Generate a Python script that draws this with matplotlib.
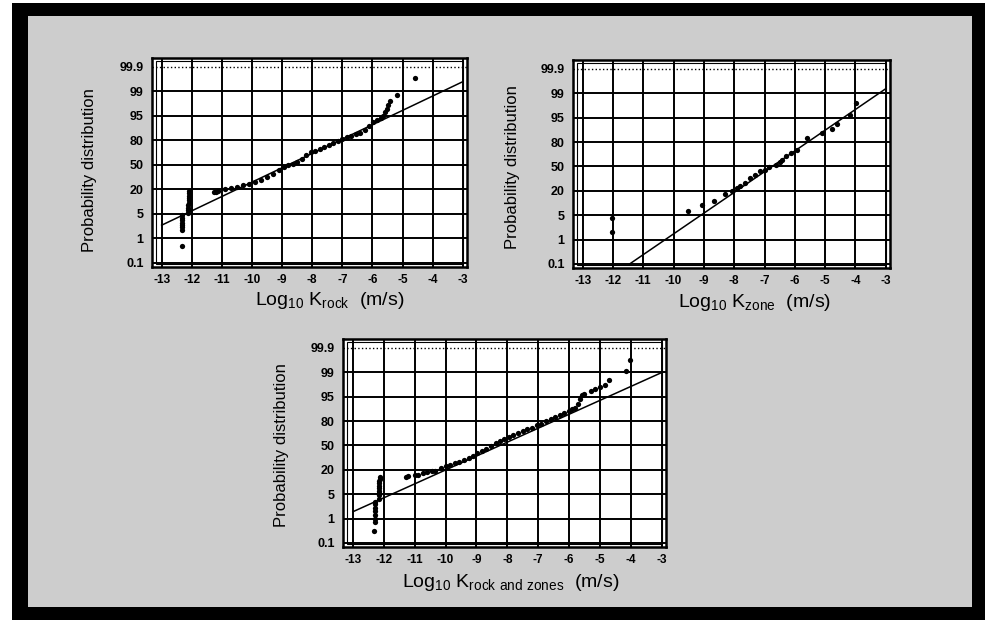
import numpy as np
import matplotlib.pyplot as plt
from matplotlib.patches import Rectangle
from matplotlib.ticker import NullLocator

plt.rcParams['font.family'] = ['Liberation Sans', 'DejaVu Sans']
plt.rcParams['mathtext.default'] = 'regular'

# probability axis (ticks are equally spaced on the original paper)
prob_ticks = [0.1, 1, 5, 20, 50, 80, 95, 99, 99.9]
prob_labels = ['0.1', '1', '5', '20', '50', '80', '95', '99', '99.9']
k_ticks = list(range(-13, -2))
k_labels = ['-13', '-12', '-11', '-10', '-9', '-8', '-7', '-6', '-5', '-4', '-3']

# rock
rock_logk = [-12.34,
             -12.34, -12.34, -12.33, -12.33, -12.32, -12.32, -12.31,
             -12.12, -12.12, -12.11, -12.11, -12.10, -12.10, -12.10, -12.09, -12.09, -12.08,
             -11.26, -11.20, -11.14,
             -10.9, -10.7, -10.5, -10.3, -10.1, -9.9, -9.7, -9.5, -9.3, -9.1,
             -8.95, -8.8, -8.65, -8.5, -8.35, -8.2, -8.05, -7.9, -7.75, -7.6,
             -7.45, -7.3, -7.15, -7.0, -6.85, -6.7, -6.55, -6.4, -6.25, -6.1,
             -5.98, -5.85, -5.72, -5.65, -5.58, -5.52, -5.47, -5.43, -5.19, -4.59]
rock_prob = [0.72,
             2.4, 2.8, 3.2, 3.6, 4.0, 4.4, 4.8,
             5.75, 7.25, 8.75, 10.25, 11.75, 13.25, 14.75, 16.25, 17.75, 18.8,
             18.2, 18.5, 18.8,
             20, 21.5, 23, 25.1, 26.6, 29, 32, 35.6, 39.5, 44,
             47.6, 49.4, 51.5, 53.9, 57.5, 62, 65.6, 67.4, 69.5, 71.6,
             74, 76.4, 78.8, 80.75, 81.95, 83, 83.9, 84.8, 86.45, 89,
             91.25, 92.45, 93.5, 95, 95.6, 96.2, 96.8, 97.4, 98.44, 99.5]
rock_fit_logk = [-13, -3]
rock_fit_prob = [3.16, 99.36]

# zones
zone_logk = [-12.03, -12.03, -9.54, -9.05, -8.68, -8.30, -8.08, -7.90, -7.81, -7.65,
             -7.49, -7.32, -7.16, -7.0, -6.84, -6.62, -6.50, -6.41, -6.30, -6.14,
             -5.92, -5.59, -5.11, -4.78, -4.62, -4.19, -3.97]
zone_prob = [4.6, 2.28, 7.55, 11, 14, 17.75, 19.7, 23.5, 25.7, 29.6,
             35.9, 39.8, 44, 45.8, 49.1, 52.1, 55, 58.1, 62.3, 66.2,
             70.4, 82.25, 85.4, 87.8, 91.4, 95.4, 97.4]
zone_fit_logk = [-11.45, -3]
zone_fit_prob = [0.1, 99.17]

# rock and zones
all_logk = [-12.32,
            -12.29, -12.29, -12.29, -12.28, -12.28, -12.28, -12.27,
            -12.16, -12.16, -12.15, -12.15, -12.15, -12.14, -12.14, -12.14, -12.13, -12.13,
            -11.27, -11.2, -10.99, -10.9, -10.72, -10.6, -10.45, -10.33,
            -10.15, -10.0, -9.85, -9.7, -9.56, -9.4, -9.25, -9.12, -8.97, -8.83,
            -8.68, -8.53, -8.38, -8.24, -8.1, -7.95, -7.8, -7.65, -7.5, -7.35,
            -7.2, -7.05, -6.9, -6.75, -6.6, -6.45, -6.3, -6.15, -6.0, -5.9,
            -5.8, -5.72, -5.65, -5.58, -5.52,
            -5.3, -5.15, -5.0, -4.85, -4.7, -4.16, -4.03]
all_prob = [0.55,
            0.89, 1.0, 1.6, 2.2, 2.8, 3.4, 3.76,
            4.28, 4.8, 5.75, 7.25, 8.75, 10.25, 11.75, 13.25, 14.3, 15.5,
            15.5, 15.9, 16.55, 17.0, 18.2, 18.6, 19.0, 19.55,
            22.4, 24.2, 26, 27.8, 30.2, 32.6, 35, 37.4, 40.4, 42.8,
            45.5, 49.1, 52.4, 55.7, 58.4, 60.5, 62.6, 65, 67.4, 69.8,
            71.9, 74.6, 77, 79.7, 81.2, 82.25, 83.6, 84.8, 86.3, 87.2,
            88.25, 90.5, 93.5, 95.2, 95.52,
            95.88, 96.2, 96.52, 96.92, 97.8, 99.06, 99.45]
all_fit_logk = [-13, -3]
all_fit_prob = [2.12, 98.96]

# piecewise scale: each labelled probability one step apart
p_knots = [-0.8] + prob_ticks + [100.8]
i_knots = [-1] + list(range(len(prob_ticks))) + [len(prob_ticks)]


def fwd(p):
    return np.interp(p, p_knots, i_knots)


def inv(i):
    return np.interp(i, i_knots, p_knots)


fig = plt.figure(figsize=(9.85, 6.2), dpi=100, facecolor='white')
W, H = 985, 620
fig.patches.append(Rectangle((12 / W, 0), (W - 12) / W, 617 / H, transform=fig.transFigure,
                             facecolor='black', edgecolor='none', zorder=-20))
fig.patches.append(Rectangle((28 / W, 13 / H), (972 - 28) / W, (604 - 13) / H,
                             transform=fig.transFigure, facecolor='#cdcdcd',
                             edgecolor='none', zorder=-10))


def panel(rect, logk, prob, fit_k, fit_p, sub, xlab_pos, ylab_pos):
    ax = fig.add_axes(rect)
    ax.set_facecolor('white')
    ax.set_yscale('function', functions=(fwd, inv))
    ax.set_xlim(-13.32, -2.86)
    ax.set_ylim(-0.05, 100.23)
    ax.set_xticks(k_ticks, k_labels)
    ax.set_yticks(prob_ticks, prob_labels)
    ax.yaxis.set_minor_locator(NullLocator())
    ax.xaxis.set_minor_locator(NullLocator())
    ax.tick_params(length=0, labelsize=8.5, pad=5)
    ax.tick_params(axis='y', labelsize=9, pad=6)
    for lab in ax.get_xticklabels() + ax.get_yticklabels():
        lab.set_fontweight('bold')
    ax.grid(True, color='black', lw=1.4)
    ax.get_ygridlines()[-1].set_linestyle(':')
    ax.get_ygridlines()[-1].set_linewidth(1.0)
    for s in ax.spines.values():
        s.set_linewidth(1.8)
    ax.set_axisbelow(True)
    # inner frame line of the chart paper
    ax.add_patch(Rectangle((0.012, 0.015), 0.976, 0.97, transform=ax.transAxes,
                           fill=False, edgecolor='black', lw=0.8, zorder=1))
    ax.plot(fit_k, fit_p, color='black', lw=1.1)
    ax.plot(logk, prob, 'o', color='black', ms=3.8, mec='none')
    ax.set_ylabel('Probability distribution', fontsize=12)
    ax.yaxis.set_label_coords(*ylab_pos)
    ax.set_xlabel('Log$_{10}$ K$_{' + sub + '}$  (m/s)', fontsize=14, va='top')
    ax.xaxis.set_label_coords(*xlab_pos)
    return ax


panel([152 / W, 1 - 267 / H, 315 / W, 209 / H], rock_logk, rock_prob,
      rock_fit_logk, rock_fit_prob, 'rock', (0.565, -0.11), (-0.175, 0.464))
panel([573 / W, 1 - 268 / H, 317 / W, 208 / H], zone_logk, zone_prob,
      zone_fit_logk, zone_fit_prob, 'zone', (0.574, -0.115), (-0.167, 0.486))
panel([343 / W, 1 - 547 / H, 323 / W, 208 / H], all_logk, all_prob,
      all_fit_logk, all_fit_prob, 'rock\\ and\\ zones', (0.52, -0.12), (-0.167, 0.49))

plt.savefig('out.png', dpi=100)
